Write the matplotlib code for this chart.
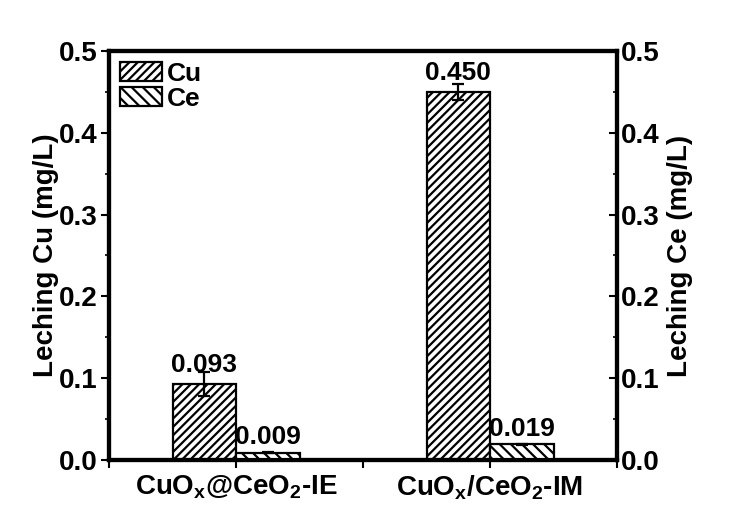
import numpy as np
import matplotlib.pyplot as plt
from matplotlib.ticker import MultipleLocator, FixedLocator, FormatStrFormatter

plt.rcParams['font.family'] = ['Liberation Sans', 'DejaVu Sans']
plt.rcParams['font.weight'] = 'bold'
plt.rcParams['mathtext.default'] = 'regular'
plt.rcParams['hatch.linewidth'] = 1.6

# data
samples = ['CuO$_{x}$@CeO$_{2}$-IE', 'CuO$_{x}$/CeO$_{2}$-IM']
cu_vals = [0.093, 0.450]
cu_err = [0.015, 0.010]
ce_vals = [0.009, 0.019]
ce_err = [0.001, 0.001]

fig = plt.figure(figsize=(7.36, 5.19), dpi=100)
ax = fig.add_axes([109/736, 1 - 460/519, (617-109)/736, (460-51)/519])
ax2 = ax.twinx()

x = np.array([1, 3])
w = 0.5
ax.bar(x - w/2, cu_vals, w, yerr=cu_err, capsize=4, color='white', edgecolor='black',
       linewidth=1.6, hatch='////', label='Cu', error_kw=dict(elinewidth=1.6, capthick=1.6))
ax2.bar(x + w/2, ce_vals, w, yerr=ce_err, capsize=4, color='white', edgecolor='black',
        linewidth=1.6, hatch='\\\\\\', label='Ce', error_kw=dict(elinewidth=1.6, capthick=1.6))

for xi, v in zip(x, cu_vals):
    ax.text(xi - w/2, v + 0.008, '%.3f' % v, ha='center', va='bottom', fontsize=19, fontweight='bold')
for xi, v in zip(x, ce_vals):
    ax2.text(xi + w/2, v + 0.004, '%.3f' % v, ha='center', va='bottom', fontsize=19, fontweight='bold')

for a in (ax, ax2):
    a.set_ylim(0, 0.5)
    a.yaxis.set_major_locator(MultipleLocator(0.1))
    a.yaxis.set_minor_locator(MultipleLocator(0.05))
    a.yaxis.set_major_formatter(FormatStrFormatter('%.1f'))
    for s in a.spines.values():
        s.set_linewidth(3)
ax.tick_params(axis='y', which='major', direction='out', length=6, width=1.5, labelsize=20, pad=2)
ax.tick_params(axis='y', which='minor', direction='out', length=3, width=1.2)
ax2.tick_params(axis='y', which='major', direction='in', length=6, width=1.5, labelsize=20, pad=3)
ax2.tick_params(axis='y', which='minor', direction='in', length=3, width=1.2)

ax.set_xlim(0, 4)
ax.xaxis.set_major_locator(FixedLocator(x))
ax.xaxis.set_minor_locator(FixedLocator([0, 2, 4]))
ax.set_xticklabels(samples)
ax.tick_params(axis='x', which='both', direction='out', length=6, width=1.5, labelsize=20, pad=4)

ax.set_ylabel('Leching Cu (mg/L)', fontsize=20, fontweight='bold')
ax2.set_ylabel('Leching Ce (mg/L)', fontsize=20, fontweight='bold')
ax.yaxis.set_label_coords(-0.098, 0.5)
ax2.yaxis.set_label_coords(1.098, 0.5)

h1, l1 = ax.get_legend_handles_labels()
h2, l2 = ax2.get_legend_handles_labels()
ax.legend(h1 + h2, l1 + l2, loc='upper left', frameon=False, fontsize=19,
          handlelength=1.6, handleheight=0.75, handletextpad=0.2, labelspacing=0.05,
          borderaxespad=0.2, borderpad=0.2)

fig.savefig('out.png', dpi=100)
